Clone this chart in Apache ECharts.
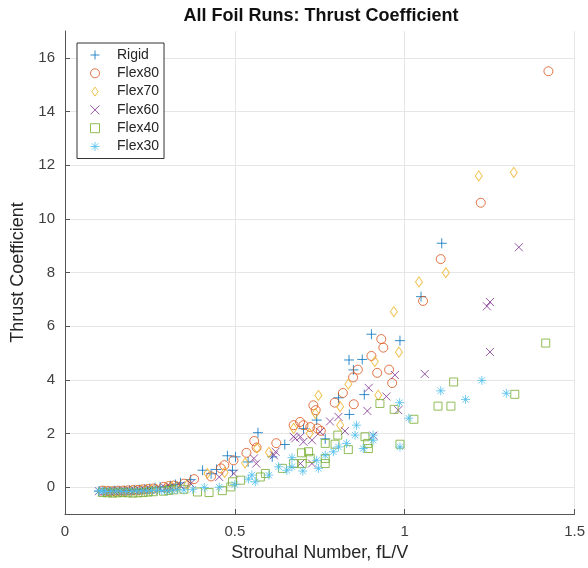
<!DOCTYPE html>
<html>
<head>
<meta charset="utf-8">
<script src="https://cdn.jsdelivr.net/npm/echarts@6/dist/echarts.min.js"></script>
<style>
	html, body { margin: 0; padding: 0; background: #fff; }
	#chart { width: 588px; height: 568px; }
</style>
</head>
<body>
<div id="chart"></div>
<script>
// data: [Strouhal number, thrust coefficient]
var seriesNames = ['Rigid', 'Flex80', 'Flex70', 'Flex60', 'Flex40', 'Flex30'];
var xTicks = [0, 0.5, 1, 1.5];
var yTicks = [0, 2, 4, 6, 8, 10, 12, 14, 16];

var rigidPts = [
	[0.10, -0.15], [0.115, -0.14], [0.13, -0.16], [0.145, -0.13], [0.16, -0.14], [0.175, -0.13], [0.19, -0.12], [0.205, -0.1],
	[0.22, -0.09], [0.235, -0.07], [0.25, -0.05], [0.265, -0.02], [0.28, 0.01], [0.31, 0.06], [0.325, 0.1],
	[0.34, 0.16], [0.37, 0.28], [0.405, 0.63], [0.43, 0.5], [0.446, 0.66], [0.478, 1.17], [0.493, 0.63], [0.502, 1.13],
	[0.539, 0.94], [0.568, 2.03], [0.61, 1.13], [0.647, 1.59], [0.702, 2.18], [0.741, 2.5], [0.766, 1.8], [0.805, 3.33],
	[0.837, 2.71], [0.836, 4.74], [0.849, 4.37], [0.875, 4.76], [0.881, 3.45], [0.902, 5.7], [0.986, 5.46], [1.048, 7.1],
	[1.109, 9.09]
];
var flex80Pts = [
	[0.11, -0.13], [0.125, -0.14], [0.14, -0.15], [0.155, -0.13], [0.17, -0.13], [0.185, -0.12], [0.2, -0.11], [0.215, -0.1],
	[0.23, -0.08], [0.245, -0.07], [0.26, -0.05], [0.29, 0.01], [0.305, 0.04], [0.32, 0.06],
	[0.35, 0.13], [0.38, 0.3], [0.43, 0.4], [0.459, 0.7], [0.469, 0.82], [0.496, 1.0], [0.534, 1.28], [0.557, 1.72],
	[0.564, 1.48], [0.622, 1.64], [0.673, 2.31], [0.692, 2.43], [0.702, 2.31], [0.722, 2.24], [0.731, 3.05], [0.738, 2.87],
	[0.743, 2.19], [0.753, 2.1], [0.794, 3.15], [0.818, 3.51], [0.848, 4.09], [0.85, 3.09], [0.862, 4.38], [0.902, 4.89],
	[0.919, 4.26], [0.931, 5.52], [0.937, 5.2], [0.954, 4.38], [0.963, 3.88], [1.054, 6.94], [1.106, 8.5], [1.224, 10.6],
	[1.423, 15.5]
];
var flex70Pts = [
	[0.12, -0.16], [0.135, -0.17], [0.15, -0.18], [0.165, -0.17], [0.18, -0.16], [0.195, -0.15], [0.21, -0.14], [0.225, -0.12],
	[0.24, -0.11], [0.255, -0.1], [0.27, -0.08], [0.3, -0.04], [0.315, -0.01], [0.33, 0.02],
	[0.36, 0.1], [0.419, 0.51], [0.47, 0.55], [0.53, 0.9], [0.565, 1.45], [0.6, 1.3], [0.673, 2.19], [0.72, 2.0],
	[0.737, 2.75], [0.746, 3.42], [0.81, 3.0], [0.81, 2.31], [0.834, 3.84], [0.912, 4.68], [0.922, 3.43], [0.968, 6.54],
	[0.983, 5.03], [1.042, 7.65], [1.121, 7.99], [1.218, 11.6], [1.321, 11.73]
];
var flex60Pts = [
	[0.1, -0.15], [0.115, -0.16], [0.13, -0.15], [0.145, -0.15], [0.16, -0.15], [0.175, -0.14], [0.19, -0.13], [0.205, -0.12],
	[0.22, -0.11], [0.235, -0.1], [0.25, -0.08], [0.28, -0.05], [0.295, -0.03], [0.31, 0.0],
	[0.34, 0.06], [0.37, 0.13], [0.454, 0.38], [0.497, 0.51], [0.556, 1.07], [0.563, 0.88], [0.615, 1.19], [0.62, 1.32],
	[0.673, 1.88], [0.678, 1.82], [0.693, 1.88], [0.693, 0.88], [0.702, 1.69], [0.727, 1.75], [0.727, 0.88], [0.751, 2.06],
	[0.78, 2.45], [0.805, 2.62], [0.824, 2.09], [0.89, 2.84], [0.894, 3.7], [0.908, 1.92], [0.946, 3.38], [0.971, 4.18],
	[0.981, 2.87], [1.059, 4.22], [1.242, 6.74], [1.251, 6.9], [1.251, 5.04], [1.336, 8.94]
];
var flex40Pts = [
	[0.11, -0.2], [0.125, -0.21], [0.14, -0.22], [0.155, -0.21], [0.17, -0.2], [0.185, -0.21], [0.2, -0.22], [0.215, -0.21],
	[0.23, -0.2], [0.245, -0.18], [0.26, -0.17], [0.29, -0.15], [0.305, -0.12], [0.32, -0.1],
	[0.35, -0.08], [0.39, -0.18], [0.424, -0.2], [0.463, -0.13], [0.488, 0.01], [0.493, 0.2], [0.517, 0.26], [0.575, 0.38],
	[0.59, 0.51], [0.64, 0.7], [0.673, 0.88], [0.696, 1.28], [0.698, 0.88], [0.717, 1.32], [0.722, 1.07], [0.766, 1.07],
	[0.766, 0.88], [0.766, 1.63], [0.795, 1.6], [0.803, 1.94], [0.834, 1.4], [0.883, 1.88], [0.891, 1.63], [0.893, 1.44],
	[0.927, 3.12], [0.969, 2.9], [0.986, 1.6], [1.027, 2.53], [1.098, 3.02], [1.136, 3.02], [1.144, 3.92], [1.324, 3.46],
	[1.415, 5.37]
];
var flex30Pts = [
	[0.1, -0.14], [0.11, -0.15], [0.12, -0.16], [0.135, -0.15], [0.15, -0.14], [0.165, -0.15], [0.18, -0.16], [0.195, -0.15],
	[0.21, -0.14], [0.225, -0.14], [0.24, -0.14], [0.255, -0.13], [0.27, -0.12], [0.285, -0.13], [0.3, -0.14], [0.315, -0.11],
	[0.33, -0.09], [0.35, -0.1], [0.376, -0.08], [0.41, -0.01], [0.454, 0.0], [0.5, 0.1], [0.54, 0.3], [0.55, 0.45], [0.56, 0.2],
	[0.6, 0.45], [0.629, 0.76], [0.653, 0.63], [0.668, 1.1], [0.668, 0.76], [0.7, 0.6], [0.741, 1.0], [0.746, 0.7],
	[0.766, 1.19], [0.79, 1.32], [0.805, 1.5], [0.829, 1.63], [0.854, 1.94], [0.858, 2.31], [0.878, 1.44], [0.907, 1.94],
	[0.907, 1.75], [0.985, 3.15], [0.986, 1.5], [1.012, 2.57], [1.106, 3.59], [1.179, 3.27], [1.227, 3.98], [1.299, 3.5]
];
var allPts = [rigidPts, flex80Pts, flex70Pts, flex60Pts, flex40Pts, flex30Pts];

// matlab-ish markers
var colors = ['#0072BD', '#D95319', '#EDB120', '#7E2F8E', '#77AC30', '#4DBEEE'];
var symbols = [
	'path://M5,0L5,10M0,5L10,5',
	'path://M10,5A5,5,0,1,1,0,5A5,5,0,1,1,10,5Z',
	'path://M5,0L10,7L5,14L0,7Z',
	'path://M0,0L10,10M0,10L10,0',
	'path://M0,0L10,0L10,10L0,10Z',
	'path://M5,0L5,10M0,5L10,5M1.5,1.5L8.5,8.5M1.5,8.5L8.5,1.5'
];
var sizes = [[10, 10], [9, 9], [7, 10], [8, 8], [8, 8], [9, 9]];

var series = [];
for (var i = 0; i < seriesNames.length; i++) {
	series.push({
		name: seriesNames[i],
		type: 'scatter',
		data: allPts[i],
		symbol: symbols[i],
		symbolSize: sizes[i],
		itemStyle: {
			color: 'rgba(0,0,0,0)',
			borderColor: colors[i],
			borderWidth: 1
		},
		emphasis: { disabled: true }
	});
}

var chart = echarts.init(document.getElementById('chart'), null, { renderer: 'canvas' });
chart.setOption({
	animation: false,
	backgroundColor: '#fff',
	title: {
		text: 'All Foil Runs: Thrust Coefficient',
		left: 321,
		textAlign: 'center',
		top: 7,
		padding: 0,
		textStyle: { fontFamily: 'Liberation Sans', fontSize: 18, fontWeight: 'bold', color: '#111' }
	},
	legend: {
		orient: 'vertical',
		left: 77,
		top: 43,
		padding: [5, 5, 5, 13],
		itemWidth: 34,
		itemHeight: 9,
		itemGap: 4.3,
		backgroundColor: '#fff',
		borderColor: '#333',
		borderWidth: 1,
		itemStyle: { borderWidth: 1 },
		textStyle: { fontFamily: 'Liberation Sans', fontSize: 14, color: '#262626' },
		data: seriesNames
	},
	grid: { left: 65, right: 10, top: 31, bottom: 54, containLabel: false },
	xAxis: {
		type: 'value',
		min: 0,
		max: 1.5,
		interval: 0.5,
		name: 'Strouhal Number, fL/V',
		nameLocation: 'middle',
		nameGap: 30,
		nameTextStyle: { fontFamily: 'Liberation Sans', fontSize: 18, color: '#262626' },
		axisLine: { onZero: false, lineStyle: { color: '#555', width: 1 } },
		axisTick: { inside: true, length: 5, lineStyle: { color: '#555' } },
		axisLabel: {
			margin: 10,
			fontFamily: 'Liberation Sans',
			fontSize: 15,
			color: '#404040',
			formatter: function(v) { return xTicks.indexOf(v) >= 0 ? String(v) : ''; }
		},
		splitLine: { show: true, lineStyle: { color: '#e6e6e6', width: 1 } }
	},
	yAxis: {
		type: 'value',
		min: -1,
		max: 17,
		name: 'Thrust Coefficient',
		nameLocation: 'middle',
		nameGap: 36,
		nameTextStyle: { fontFamily: 'Liberation Sans', fontSize: 18, color: '#262626' },
		axisLine: { show: true, onZero: false, lineStyle: { color: '#555', width: 1 } },
		axisTick: { show: true, inside: true, length: 5, customValues: yTicks, lineStyle: { color: '#555' } },
		axisLabel: {
			margin: 10,
			customValues: yTicks,
			fontFamily: 'Liberation Sans',
			fontSize: 15,
			color: '#404040'
		},
		splitLine: { show: true, lineStyle: { color: '#e6e6e6', width: 1 } }
	},
	series: series
});
</script>
</body>
</html>
